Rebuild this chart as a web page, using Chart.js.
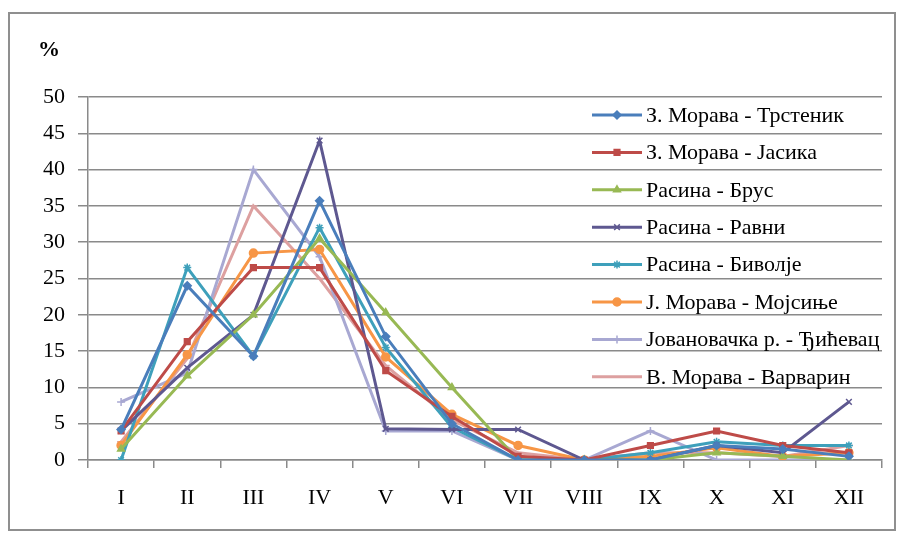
<!DOCTYPE html>
<html>
<head>
<meta charset="utf-8">
<script src="https://cdn.jsdelivr.net/npm/chart.js@4"></script>
<style>
  html, body { margin: 0; padding: 0; background: #fff; }
  #wrap { width: 903px; height: 539px; }
</style>
</head>
<body>
<div id="wrap"><canvas id="mainChart" width="903" height="539"></canvas></div>
<script>
// === DỮ LIỆU ===
const months = ['I', 'II', 'III', 'IV', 'V', 'VI', 'VII', 'VIII', 'IX', 'X', 'XI', 'XII'];
const seriesNames = [
  'З. Морава - Трстеник',
  'З. Морава - Јасика',
  'Расина - Брус',
  'Расина - Равни',
  'Расина - Биволје',
  'Ј. Морава - Мојсиње',
  'Јовановачка р. - Ђићевац',
  'В. Морава - Варварин'
];
const trstenik  = [4.2, 24, 14.3, 35.7, 17, 5, 0, 0, 0, 2, 1.5, 0.5];
const jasika    = [4, 16.3, 26.5, 26.5, 12.3, 6, 0.5, 0, 2, 4, 2, 1];
const brus      = [1.5, 11.6, 20, 30.5, 20.3, 10, 0, 0, 0, 1, 0.5, 0];
const ravni     = [4, 12.7, 20, 44, 4.3, 4.2, 4.2, 0, 0, 2, 1, 8];
const bivolje   = [0, 26.5, 14.3, 32, 15.5, 4.5, 0, 0, 1, 2.5, 2, 2];
const mojsinje  = [2, 14.5, 28.5, 29, 14.2, 6.3, 2, 0, 0.5, 1.7, 0.5, 1];
const djicevac  = [8, 12, 40, 28, 4, 4, 0, 0, 4, 0, 0, 0];
const varvarin  = [2.5, 14, 35, 25, 13, 5.5, 1, 0, 1, 1, 0.5, 2];
const yTicks = [0, 5, 10, 15, 20, 25, 30, 35, 40, 45, 50];

const seriesValues = [trstenik, jasika, brus, ravni, bivolje, mojsinje, djicevac, varvarin];
const seriesColors = ['#4A7EBB', '#BE4B48', '#98B954', '#5E5890', '#3EA0BB', '#F79646', '#A8A8D2', '#DDA0A0'];
const seriesMarkers = ['rectRot', 'rect', 'triangle', 'crossRot', 'star', 'circle', 'cross', 'line'];

const serif = 'Liberation Serif, Times New Roman, serif';

document.addEventListener('DOMContentLoaded', function () {
  const ctx = document.getElementById('mainChart').getContext('2d');

  // khung ngoài + nền trắng
  const framePlugin = {
    id: 'frame',
    beforeDraw(chart) {
      const c = chart.ctx;
      c.save();
      c.fillStyle = '#fff';
      c.fillRect(0, 0, chart.width, chart.height);
      c.strokeStyle = '#8f8f8f';
      c.lineWidth = 2;
      c.strokeRect(9, 13, 886, 517);
      // ký hiệu %
      c.fillStyle = '#000';
      c.font = 'bold 22px ' + serif;
      c.textBaseline = 'middle';
      c.fillText('%', 38, 50);
      c.restore();
    }
  };

  // chú thích vẽ tay trong vùng biểu đồ
  const legendPlugin = {
    id: 'innerLegend',
    afterDatasetsDraw(chart) {
      const c = chart.ctx;
      c.save();
      chart.data.datasets.forEach((ds, i) => {
        const y = 115 + i * 37.4;
        c.strokeStyle = ds.borderColor;
        c.lineWidth = 3;
        c.beginPath();
        c.moveTo(592, y);
        c.lineTo(642, y);
        c.stroke();
        c.fillStyle = ds.borderColor;
        c.lineWidth = 1.5;
        Chart.helpers.drawPoint(c, { pointStyle: ds.pointStyle, radius: 4, borderWidth: 1.5, rotation: 0 }, 617, y);
        c.fillStyle = '#000';
        c.font = '22px ' + serif;
        c.textBaseline = 'middle';
        c.fillText(ds.label, 646, y + 1);
      });
      c.restore();
    }
  };

  const datasets = seriesNames.map((name, i) => ({
    label: name,
    data: seriesValues[i],
    borderColor: seriesColors[i],
    backgroundColor: seriesColors[i],
    pointBackgroundColor: seriesColors[i],
    pointBorderColor: seriesColors[i],
    pointStyle: seriesMarkers[i],
    pointRadius: 4,
    pointBorderWidth: 1.5,
    borderWidth: 3,
    tension: 0,
    fill: false
  }));

  new Chart(ctx, {
    type: 'line',
    data: { labels: months, datasets: datasets },
    options: {
      responsive: false,
      animation: false,
      devicePixelRatio: 1,
      layout: { padding: { left: 0, top: 97, right: 21, bottom: 0 } },
      plugins: { legend: { display: false }, tooltip: { enabled: false } },
      scales: {
        x: {
          offset: true,
          afterFit(scale) { scale.height = 79; },
          grid: { offset: true, drawOnChartArea: false, drawTicks: true, tickLength: 8, color: '#8a8a8a', lineWidth: 1.5 },
          border: { color: '#8a8a8a', width: 1.5 },
          ticks: { color: '#000', font: { family: serif, size: 22 }, padding: 17, maxRotation: 0 }
        },
        y: {
          min: 0,
          max: 50,
          afterFit(scale) { scale.width = 88; },
          afterBuildTicks(scale) { scale.ticks = yTicks.map(v => ({ value: v })); },
          grid: { color: '#8a8a8a', lineWidth: 1.5, tickLength: 10 },
          border: { color: '#8a8a8a', width: 1.5 },
          ticks: { color: '#000', font: { family: serif, size: 22 }, padding: 13 }
        }
      }
    },
    plugins: [framePlugin, legendPlugin]
  });
});
</script>
</body>
</html>
